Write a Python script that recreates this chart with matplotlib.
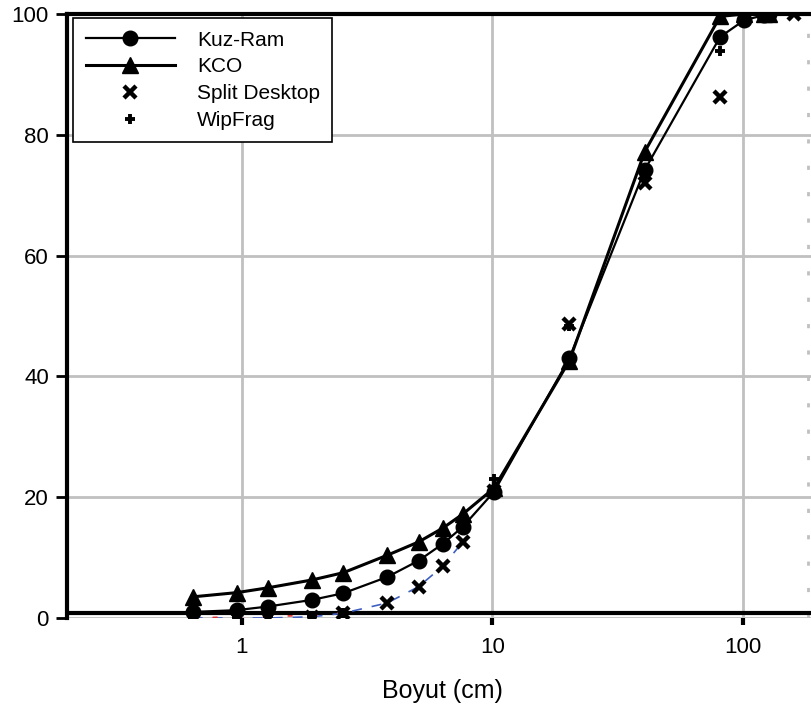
import numpy as np
import matplotlib
matplotlib.use("Agg")
import matplotlib.pyplot as plt

plt.rcParams['font.family'] = ['Liberation Sans', 'DejaVu Sans']

# elek boyutlari (cm)
size = [0.635, 0.9525, 1.27, 1.905, 2.54, 3.81, 5.08, 6.35, 7.62, 10.16,
        20.32, 40.64, 81.28, 101.6, 121.92, 127.0]
kuz_ram = [1.0, 1.3, 1.9, 3.0, 4.1, 6.8, 9.5, 12.3, 15.1, 20.9,
           43.0, 74.2, 96.2, 99.0, 99.8, 100.0]
kco = [3.5, 4.2, 5.0, 6.3, 7.5, 10.4, 12.6, 14.9, 17.2, 21.5,
       42.6, 77.2, 99.6, 100.0, 100.0, 100.0]

split_size = [0.635, 0.9525, 1.27, 1.905, 2.54, 3.81, 5.08, 6.35, 7.62, 10.16,
              20.32, 40.64, 81.28, 160.0]
split_desktop = [0.0, 0.0, 0.0, 0.2, 0.8, 2.5, 5.2, 8.6, 12.6, 21.0,
                 48.7, 72.0, 86.3, 100.0]

wip_size = [0.635, 0.9525, 1.27, 1.905, 2.54, 10.16, 20.32, 40.64, 81.28]
wipfrag = [0.0, 0.2, 0.3, 0.4, 0.9, 23.0, 48.3, 73.0, 93.8]

fig = plt.figure(figsize=(8.11, 7.11), dpi=100)
ax = fig.add_axes([67 / 811, 93 / 711, 751 / 811, 604 / 711])

ax.set_xscale('log')
ax.set_xlim(0.2, 200)
ax.set_ylim(0, 100)

grid_c = '#c0c0c0'
for yv in [0, 20, 40, 60, 80]:
    ax.axhline(yv, color=grid_c, lw=2, zorder=0)
for xv in [1, 10, 100]:
    ax.axvline(xv, color=grid_c, lw=2, zorder=0)
ax.axvline(182, color=grid_c, lw=2, ls=(0, (1.5, 8)), zorder=0)

# eksen cizgileri
ax.axhline(0.8, color='black', lw=3, zorder=1)
ax.axhline(100, color='black', lw=3, zorder=1, clip_on=False)

# trend cizgileri (kesik)
ax.plot(split_size[:9], split_desktop[:9], color='#4060c0', lw=1.2,
        ls=(0, (6, 6)), zorder=2)
ax.plot(wip_size[:5], wipfrag[:5], color='#e03030', lw=1.2,
        ls=(3, (3, 12)), zorder=2)

ax.plot(size, kuz_ram, color='black', lw=1.6, marker='o', ms=10.5,
        label='Kuz-Ram', zorder=4)
ax.plot(size, kco, color='black', lw=2.2, marker='^', ms=11,
        label='KCO', zorder=4)
ax.plot(split_size, split_desktop, ls='none', color='black', marker='x',
        ms=9, mew=3.2, label='Split Desktop', zorder=5)
ax.plot(wip_size, wipfrag, ls='none', color='black', marker='+',
        ms=7, mew=2.8, label='WipFrag', zorder=5)

for s in ['top', 'right', 'bottom']:
    ax.spines[s].set_visible(False)
ax.spines['left'].set_linewidth(3)

ax.set_yticks([0, 20, 40, 60, 80, 100])
ax.set_xticks([1, 10, 100])
ax.set_xticklabels(['1', '10', '100'])
ax.xaxis.set_minor_locator(matplotlib.ticker.NullLocator())
ax.tick_params(axis='y', direction='out', length=8, width=2, labelsize=16, pad=5)
ax.tick_params(axis='x', direction='out', length=5, width=3, labelsize=16, pad=9)

ax.set_xlabel('Boyut (cm)', fontsize=18, labelpad=15)

leg = ax.legend(loc='upper left', bbox_to_anchor=(0.008, 0.993), borderaxespad=0,
                fontsize=15, frameon=True, fancybox=False, edgecolor='black',
                framealpha=1, handlelength=4.3, handletextpad=1.05,
                labelspacing=0.37, borderpad=0.6)
leg.get_frame().set_linewidth(1.2)

fig.savefig('out.png', dpi=100)
